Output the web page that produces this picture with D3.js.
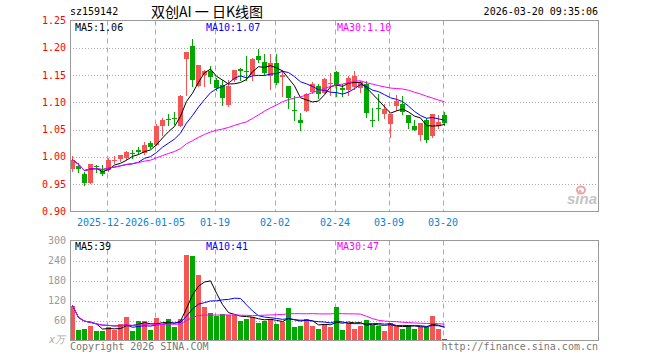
<!DOCTYPE html>
<html>
<head>
<meta charset="utf-8">
<script src="https://cdn.jsdelivr.net/npm/d3@7"></script>
<style>
  body { margin: 0; background: #fff; }
  svg { display: block; }
</style>
</head>
<body>
<div id="chart"></div>
<script>
// daily K-line data, one entry per trading day (index 0 = 2025-12-12)
const opens = [0.978, 0.984, 0.969, 0.952, 0.984, 0.975, 0.976, 0.993, 0.996, 0.998,
  1.007, 1.012, 1.007, 1.025, 1.022, 1.056, 1.070, 1.071, 1.057, 1.179,
  1.203, 1.131, 1.150, 1.157, 1.142, 1.132, 1.096, 1.142, 1.161, 1.157,
  1.150, 1.185, 1.174, 1.149, 1.172, 1.146, 1.131, 1.087, 1.068, 1.085,
  1.119, 1.131, 1.117, 1.133, 1.155, 1.126, 1.122, 1.128, 1.126, 1.134,
  1.067, 1.089, 1.079, 1.061, 1.094, 1.098, 1.077, 1.057, 1.041, 1.068,
  1.038, 1.056, 1.077];
const highs = [1.002, 0.989, 0.973, 0.987, 0.986, 0.986, 0.998, 1.001, 1.004, 1.011,
  1.012, 1.019, 1.028, 1.030, 1.061, 1.071, 1.079, 1.083, 1.113, 1.193,
  1.217, 1.168, 1.159, 1.166, 1.145, 1.142, 1.142, 1.160, 1.163, 1.185,
  1.182, 1.199, 1.188, 1.188, 1.188, 1.159, 1.131, 1.111, 1.080, 1.117,
  1.137, 1.133, 1.145, 1.154, 1.157, 1.133, 1.148, 1.157, 1.139, 1.140,
  1.090, 1.116, 1.098, 1.079, 1.114, 1.112, 1.077, 1.067, 1.062, 1.071,
  1.078, 1.077, 1.083];
const lows = [0.975, 0.973, 0.948, 0.952, 0.973, 0.967, 0.975, 0.989, 0.993, 0.997,
  0.999, 1.007, 1.006, 1.016, 1.022, 1.041, 1.059, 1.061, 1.056, 1.114,
  1.131, 1.130, 1.131, 1.136, 1.123, 1.095, 1.093, 1.139, 1.142, 1.142,
  1.141, 1.174, 1.151, 1.125, 1.133, 1.111, 1.089, 1.068, 1.050, 1.084,
  1.117, 1.108, 1.117, 1.114, 1.111, 1.111, 1.114, 1.125, 1.120, 1.074,
  1.057, 1.068, 1.071, 1.036, 1.087, 1.079, 1.053, 1.050, 1.032, 1.028,
  1.036, 1.053, 1.059];
const closes = [0.995, 0.978, 0.952, 0.987, 0.981, 0.969, 0.994, 0.995, 1.003, 1.009,
  1.005, 1.010, 1.022, 1.019, 1.056, 1.067, 1.068, 1.070, 1.112, 1.193,
  1.142, 1.168, 1.157, 1.146, 1.127, 1.108, 1.131, 1.160, 1.157, 1.155,
  1.179, 1.177, 1.154, 1.172, 1.136, 1.151, 1.108, 1.085, 1.063, 1.116,
  1.133, 1.116, 1.143, 1.136, 1.131, 1.122, 1.145, 1.149, 1.137, 1.081,
  1.066, 1.088, 1.088, 1.079, 1.102, 1.082, 1.062, 1.050, 1.062, 1.032,
  1.078, 1.064, 1.063];
// volume in 万手
const volumes = [105, 33, 36, 45, 30, 28, 40, 32, 50, 72,
  30, 58, 58, 33, 69, 50, 66, 40, 66, 258,
  253, 198, 102, 84, 73, 81, 78, 76, 58, 66,
  72, 54, 60, 66, 50, 55, 99, 42, 45, 66,
  45, 36, 49, 40, 102, 33, 53, 36, 45, 63,
  47, 43, 30, 54, 45, 36, 48, 36, 42, 40,
  75, 36, 3];

// x axis ticks (day index -> label)
const tickIndex = [6, 14, 24, 34, 44, 53, 62];
const tickLabels = ["2025-12-22", "2026-01-05", "01-19", "02-02", "02-24", "03-09", "03-20"];
const priceTicks = [0.90, 0.95, 1.00, 1.05, 1.10, 1.15, 1.20, 1.25];
const volTicks = [60, 120, 180, 240, 300];

// legend texts as printed on the chart
const maPeriods = [5, 10, 30];
const maColors = ["#000", "#0000ff", "#ff00ff"];
const priceMaText = ["MA5:1.06", "MA10:1.07", "MA30:1.10"];
const volMaText = ["MA5:39", "MA10:41", "MA30:47"];

const width = 660, height = 360;
const left = 70, right = 598;
const priceTop = 20.5, priceBottom = 211.5;
const volTop = 240.5, volBottom = 340.5;
const mono = "'DejaVu Sans Mono', monospace";

const svg = d3.select("#chart").append("svg")
  .attr("width", width)
  .attr("height", height);

// scales
const x = d3.scaleLinear().domain([0, 62]).range([72.5, 444.5]);
const yPrice = d3.scaleLinear().domain([0.90, 1.25]).range([priceBottom, 20.7]);
const yVol = d3.scaleLinear().domain([0, 300]).range([volBottom, volTop]);

// moving average over the data shown (shorter window at the start)
function movingAvg(arr, n) {
  return arr.map((_, i) => d3.mean(arr.slice(Math.max(0, i - n + 1), i + 1)));
}

const up = closes.map((c, i) => c >= opens[i]);
const red = "#f55555", green = "#00a800";

// ---------- grids ----------
function drawGrid(top, bottom, yScale, ticks) {
  const g = svg.append("g").attr("stroke", "#aaa").attr("stroke-width", 1);
  ticks.forEach(t => {
    const yy = Math.round(yScale(t)) + 0.5;
    if (yy <= top + 1 || yy >= bottom - 1) return;
    g.append("line")
      .attr("x1", left).attr("x2", right)
      .attr("y1", yy).attr("y2", yy)
      .attr("stroke-dasharray", "1,2");
  });
  tickIndex.forEach(i => {
    const xx = Math.round(x(i) - 2) + 0.5;
    g.append("line")
      .attr("x1", xx).attr("x2", xx)
      .attr("y1", top).attr("y2", bottom)
      .attr("stroke-dasharray", "5,4");
  });
}
drawGrid(priceTop, priceBottom, yPrice, priceTicks);
drawGrid(volTop, volBottom, yVol, volTicks);

// sina watermark
svg.append("ellipse")
  .attr("cx", 581).attr("cy", 190).attr("rx", 4).attr("ry", 3.5)
  .attr("fill", "none").attr("stroke", "#f5a0a0").attr("stroke-width", 2);
svg.append("circle")
  .attr("cx", 580).attr("cy", 191).attr("r", 1.5).attr("fill", "#bbb");
svg.append("text")
  .attr("x", 597).attr("y", 204)
  .attr("text-anchor", "end")
  .style("font-family", "'Liberation Sans', Arial, sans-serif")
  .style("font-size", "15px").style("font-weight", "bold").style("font-style", "italic")
  .attr("fill", "#c4c4c4")
  .text("sina");

// ---------- candles ----------
const candles = svg.append("g");
closes.forEach((c, i) => {
  const cx = x(i);
  const col = up[i] ? red : green;
  candles.append("line")
    .attr("x1", cx).attr("x2", cx)
    .attr("y1", Math.round(yPrice(highs[i])))
    .attr("y2", Math.round(yPrice(lows[i])) + 1)
    .attr("stroke", col).attr("stroke-width", 1);
  const top = Math.round(yPrice(Math.max(opens[i], c)));
  const bot = Math.round(yPrice(Math.min(opens[i], c)));
  candles.append("rect")
    .attr("x", cx - 2.5).attr("y", top)
    .attr("width", 5).attr("height", Math.max(1, bot - top))
    .attr("fill", col)
    .attr("shape-rendering", "crispEdges");
});

// ---------- volume bars ----------
const bars = svg.append("g");
volumes.forEach((v, i) => {
  const top = Math.round(yVol(v));
  bars.append("rect")
    .attr("x", x(i) - 2.5).attr("y", top)
    .attr("width", 5).attr("height", Math.max(1, volBottom - top))
    .attr("fill", up[i] ? red : green)
    .attr("shape-rendering", "crispEdges");
});

// ---------- moving average lines ----------
function drawMa(values, yScale) {
  maPeriods.forEach((n, k) => {
    const ma = movingAvg(values, n);
    const line = d3.line().x((d, i) => x(i)).y(d => yScale(d));
    svg.append("path")
      .datum(ma)
      .attr("d", line)
      .attr("fill", "none")
      .attr("stroke", maColors[k])
      .attr("stroke-width", 1);
  });
}
drawMa(closes, yPrice);
drawMa(volumes, yVol);

// ---------- frames ----------
[[priceTop, priceBottom], [volTop, volBottom]].forEach(([t, b]) => {
  svg.append("rect")
    .attr("x", left + 0.5).attr("y", t)
    .attr("width", right - left).attr("height", b - t)
    .attr("fill", "none")
    .attr("stroke", "#999").attr("stroke-width", 1);
});

// ---------- texts ----------
function label(xx, yy, txt, color, anchor, size, family) {
  return svg.append("text")
    .attr("x", xx).attr("y", yy)
    .attr("text-anchor", anchor || "start")
    .style("font-family", family || mono)
    .style("font-size", (size || 10) + "px")
    .attr("fill", color)
    .text(txt);
}

// header
label(70, 15, "sz159142", "#000");
label(151, 17, "双创AI 一 日K线图", "#000", "start", 14, "'Noto Sans CJK SC', sans-serif");
label(598, 15, "2026-03-20 09:35:06", "#000", "end");

// price axis labels
priceTicks.forEach(t => {
  label(66, yPrice(t) + 3.5, t.toFixed(2), "#f00", "end");
});
// volume axis labels
volTicks.forEach(t => {
  label(66, yVol(t) + 3.5, t, "#999", "end");
});
label(49, 343, "x万", "#aaa", "start", 10, "'DejaVu Sans', sans-serif").style("font-style", "italic");

// date labels: each later label is painted over the previous one, as on the original
tickIndex.forEach((i, k) => {
  const t = label(x(i) - 1.5, 226, tickLabels[k], "#0a84d6", "middle");
  if (k === 1) {
    const bb = t.node().getBBox();
    svg.insert("rect", () => t.node())
      .attr("x", bb.x).attr("y", bb.y)
      .attr("width", bb.width).attr("height", bb.height)
      .attr("fill", "#fff");
  }
});

// legends
const legendX = [75, 206, 337];
priceMaText.forEach((t, k) => label(legendX[k], 30.5, t, maColors[k]));
volMaText.forEach((t, k) => label(legendX[k], 249.5, t, maColors[k]));

// footer
label(70, 350, "Copyright 2026 SINA.COM", "#777");
label(598, 350, "http://finance.sina.com.cn", "#777", "end");
</script>
</body>
</html>
